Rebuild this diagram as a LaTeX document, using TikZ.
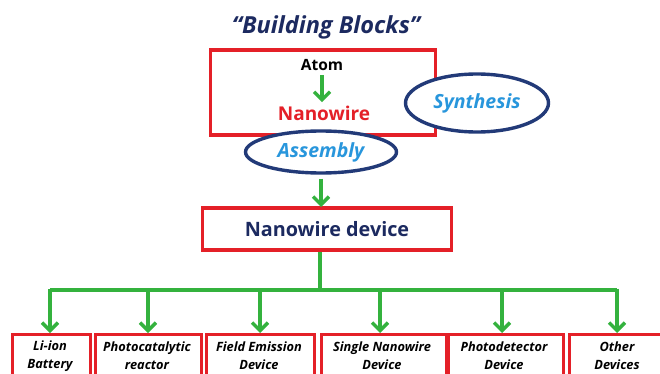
\documentclass[tikz,border=0pt]{standalone}
\usepackage{fontspec}
\setmainfont{Open Sans}
\usetikzlibrary{arrows.meta,shapes.geometric}
\definecolor{boxred}{RGB}{228,32,40}
\definecolor{flowgreen}{RGB}{52,178,62}
\definecolor{navy}{RGB}{28,42,96}
\definecolor{ringblue}{RGB}{34,58,120}
\definecolor{skyblue}{RGB}{40,150,220}
\tikzset{
  redbox/.style={draw=boxred,line width=3.4pt,fill=white,inner sep=0pt},
  ring/.style={ellipse,draw=ringblue,line width=3.4pt,fill=white,inner sep=0pt},
  flow/.style={draw=flowgreen,line width=3.2pt,-{Straight Barb[length=8pt,width=16pt,line width=3.4pt]}},
  wire/.style={draw=flowgreen,line width=3.2pt},
  leaf/.style={font=\bfseries\itshape\fontsize{12.8}{18}\selectfont,align=center,text=black},
}
\begin{document}
\begin{tikzpicture}[x=1pt,y=-1pt]
\useasboundingbox (0,0) rectangle (660,374);
% title
\node (title) at (326,27) {\bfseries\itshape\fontsize{23.5}{26}\selectfont\color{navy}``Building Blocks''};
% top box: atom to nanowire
\node[redbox,minimum width=225pt,minimum height=85pt] (top) at (323,92.5) {};
\node (atom) at (322,65) {\bfseries\fontsize{15.5}{17}\selectfont Atom};
\node (nw) at (324,113) {\bfseries\fontsize{19}{21}\selectfont\color{boxred}Nanowire};
\draw[flow] (atom.south) ++(0,1) coordinate (a1) -- (a1 |- nw.north);
% process ellipses
\node[ring,minimum width=143pt,minimum height=58pt] (syn) at (477,103) {\bfseries\itshape\fontsize{19.5}{21}\selectfont\color{skyblue}Synthesis};
\node[ring,minimum width=151pt,minimum height=42pt] (asm) at (321,152) {\bfseries\itshape\fontsize{19.5}{21}\selectfont\color{skyblue}Assembly};
% device box
\node[redbox,minimum width=249pt,minimum height=42pt] (dev) at (327,229) {\bfseries\fontsize{19.8}{22}\selectfont\color{navy}Nanowire device};
\coordinate (dtop) at (321,207);
\draw[flow] (asm.south -| dtop) ++(0,4) -- (dtop);
% branch bus
\coordinate (bus) at (320,290);
\draw[wire] (dev.south -| bus) -- (bus);
\coordinate (busL) at (50,290);
\coordinate (busR) at (617,290);
\draw[wire,line join=round] (busL) -- (busR);
% leaf boxes
\node[redbox,leaf,minimum width=78pt,minimum height=60pt,anchor=north west] (b1) at (11,333) {};
\node[redbox,leaf,minimum width=106pt,minimum height=60pt,anchor=north west] (b2) at (94,333) {};
\node[redbox,leaf,minimum width=108pt,minimum height=60pt,anchor=north west] (b3) at (205,333) {};
\node[redbox,leaf,minimum width=125pt,minimum height=60pt,anchor=north west] (b4) at (320,333) {};
\node[redbox,leaf,minimum width=115pt,minimum height=60pt,anchor=north west] (b5) at (447,333) {};
\node[redbox,leaf,minimum width=95pt,minimum height=60pt,anchor=north west] (b6) at (568,333) {};
\node[leaf] (t1) at (50,356) {Li-ion\\Battery};
\node[leaf] (t2) at (147,356) {Photocatalytic\\reactor};
\node[leaf] (t3) at (259,356) {Field Emission\\Device};
\node[leaf] (t4) at (382,356) {Single Nanowire\\Device};
\node[leaf] (t5) at (504,356) {Photodetector\\Device};
\node[leaf] (t6) at (617,356) {Other\\Devices};
% drops
\foreach \b/\x in {b1/50,b2/148,b3/260,b4/380,b5/502,b6/617}{
  \draw[flow] (\x,288.5) -- (\x,333);
}
\end{tikzpicture}
\end{document}
